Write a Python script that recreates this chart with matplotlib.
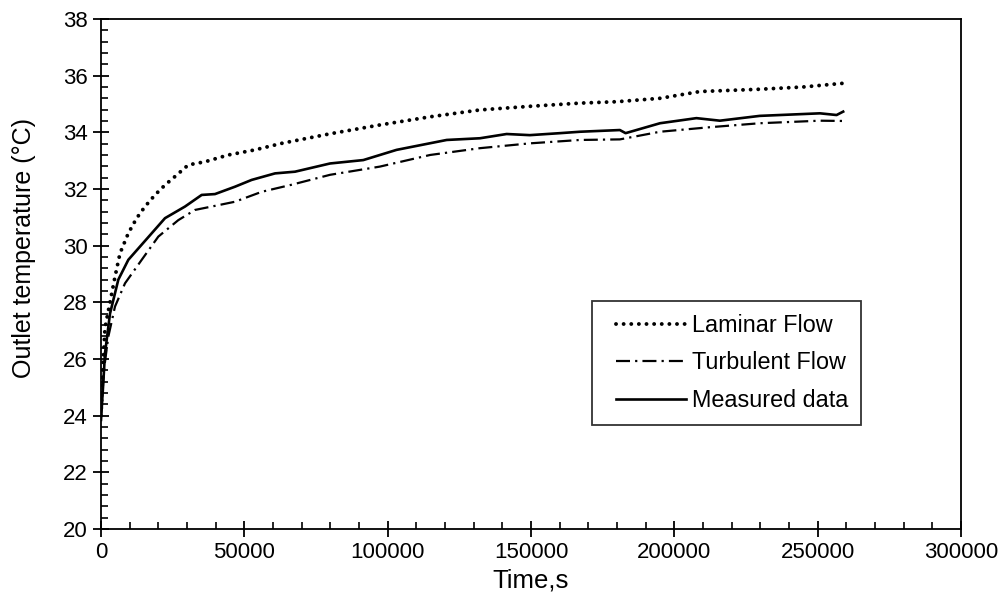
import matplotlib
matplotlib.use("Agg")
import matplotlib.pyplot as plt
from matplotlib.ticker import MultipleLocator
from matplotlib.legend_handler import HandlerLine2D

plt.rcParams['font.family'] = ['Liberation Sans', 'DejaVu Sans']

# Laminar flow (dotted)
lam_t = [0, 700, 1395, 3140, 4880, 6630, 9530, 12450, 15350, 18840, 22330, 25810,
         30450, 36270, 44400, 53700, 63000, 80000, 97300, 115000, 132200, 150000,
         167100, 180000, 195000, 209000, 229800, 245000, 258900]
lam_y = [24.0, 25.8, 27.1, 28.0, 28.9, 29.73, 30.44, 30.97, 31.38, 31.79, 32.14, 32.44,
         32.85, 32.96, 33.2, 33.38, 33.61, 33.95, 34.26, 34.55, 34.79, 34.92,
         35.03, 35.08, 35.2, 35.44, 35.52, 35.6, 35.73]

# Turbulent flow (dash-dot)
tur_t = [0, 1000, 2560, 4880, 8370, 14200, 20000, 26960, 32780, 38600, 46740, 56050,
         66500, 79900, 97300, 114800, 132200, 149600, 167100, 181000, 195000,
         212400, 229800, 250800, 258900]
tur_y = [24.0, 25.6, 26.79, 27.85, 28.67, 29.5, 30.32, 30.9, 31.26, 31.38, 31.55, 31.9,
         32.15, 32.5, 32.79, 33.2, 33.44, 33.61, 33.73, 33.75, 34.02,
         34.18, 34.32, 34.41, 34.4]

# Measured data (solid)
mea_t = [0, 700, 1395, 3140, 6040, 9530, 16500, 22330, 29300, 35120, 39760, 46740,
         52560, 60700, 67670, 79900, 91500, 103100, 120600, 132200, 141500, 149600,
         160100, 167100, 181000, 183000, 195000, 207700, 215900, 229800, 250800,
         256600, 258900]
mea_y = [23.85, 25.0, 26.2, 27.6, 28.8, 29.5, 30.3, 30.97, 31.38, 31.79, 31.82, 32.08,
         32.32, 32.55, 32.61, 32.9, 33.02, 33.38, 33.73, 33.79, 33.94, 33.9,
         33.97, 34.02, 34.08, 33.97, 34.32, 34.5, 34.41, 34.58, 34.67,
         34.61, 34.73]


class OffsetHandler(HandlerLine2D):
    """Line handler leaving a small blank margin on the left of the handle."""
    def get_xdata(self, legend, xdescent, ydescent, width, height, fontsize):
        off = 0.48 * fontsize
        return [-xdescent + off, -xdescent + width], [-xdescent + 0.5 * width]


fig = plt.figure(figsize=(10.05, 6.10), dpi=100)
ax = fig.add_axes([0.1005, 0.1328, 0.8557, 0.8361])

l1, = ax.plot(lam_t, lam_y, color='black', lw=2.8, linestyle=(0, (0.01, 1.95)),
              dash_capstyle='round', label='Laminar Flow')
l2, = ax.plot(tur_t, tur_y, color='black', lw=1.6, linestyle=(0, (6.3, 2.3, 1.0, 2.3)),
              label='Turbulent Flow')
l3, = ax.plot(mea_t, mea_y, color='black', lw=1.9, linestyle='-', label='Measured data')

ax.set_xlim(0, 300000)
ax.set_ylim(20, 38)
ax.xaxis.set_major_locator(MultipleLocator(50000))
ax.xaxis.set_minor_locator(MultipleLocator(10000))
ax.yaxis.set_major_locator(MultipleLocator(2))
ax.yaxis.set_minor_locator(MultipleLocator(0.4))

ax.tick_params(which='major', direction='inout', length=11, width=1.3,
               labelsize=16, top=False, right=False, pad=4)
ax.tick_params(which='minor', direction='in', length=5, width=1.2,
               top=False, right=False)
for s in ax.spines.values():
    s.set_linewidth(1.3)

ax.set_xlabel('Time,s', fontsize=18.5, labelpad=4)
ax.set_ylabel('Outlet temperature (°C)', fontsize=18)
ax.yaxis.set_label_coords(-0.0756, 0.551)

h = OffsetHandler()
leg = ax.legend(loc='upper left', bbox_to_anchor=(0.571, 0.447), borderaxespad=0,
                fontsize=16.8, frameon=True, fancybox=False, handlelength=3.48,
                labelspacing=0.62, borderpad=0.55, handletextpad=0.26,
                handler_map={l1: h, l2: h, l3: h})
leg.get_frame().set_edgecolor('black')
leg.get_frame().set_linewidth(1.3)

fig.savefig('out.png', dpi=100)
